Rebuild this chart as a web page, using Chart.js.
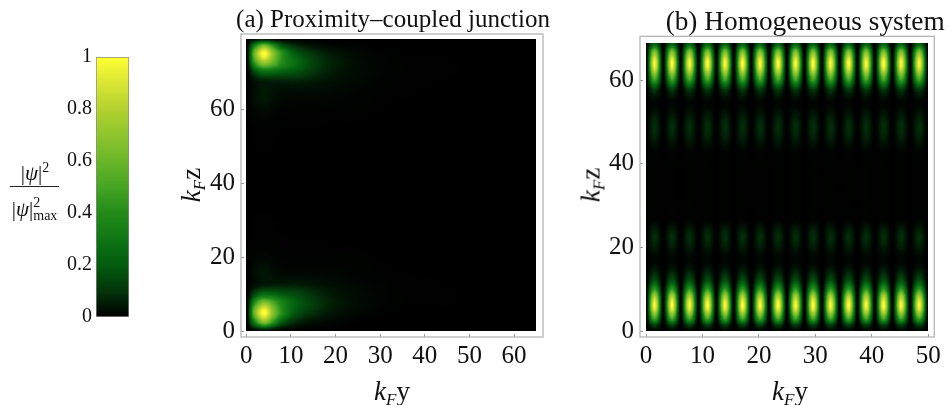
<!DOCTYPE html>
<html>
<head>
<meta charset="utf-8">
<script src="https://cdn.jsdelivr.net/npm/chart.js@4"></script>
<style>
  body { margin: 0; background: #fff; font-family: 'Liberation Serif', serif; color: #111; }
  #page { position: relative; width: 948px; height: 405px; overflow: hidden; }
  canvas { position: absolute; top: 0; }
  .lbl { position: absolute; transform: translate(-50%, -50%); white-space: nowrap; font-size: 27px; }
  .lbl.rot { transform: translate(-50%, -50%) rotate(-90deg); }
  .lbl sub { font-size: 17px; line-height: 0; font-style: italic; vertical-align: -5px; }
  .frac { font-size: 21px; }
  .frac sup { font-size: 14px; line-height: 0; vertical-align: 8px; }
  .stack { display: inline-block; position: relative; width: 25px; height: 1em; font-size: 14px; }
  .stack span { position: absolute; left: 0; line-height: 1; }
  #fracLine { position: absolute; left: 10px; top: 186px; width: 49px; height: 1px; background: #222; }
</style>
</head>
<body>
<div id="page">
  <canvas id="barChart" width="170" height="405" style="left:0"></canvas>
  <canvas id="chartA" width="385" height="405" style="left:170px"></canvas>
  <canvas id="chartB" width="393" height="405" style="left:555px"></canvas>
  <div class="lbl frac" style="left:35px;top:173px"><span>|<i>ψ</i>|</span><sup>2</sup></div>
  <div id="fracLine"></div>
  <div class="lbl frac" style="left:35px;top:209px"><span>|<i>ψ</i>|</span><span class="stack"><span style="top:-6px">2</span><span style="top:7px">max</span></span></div>
  <div class="lbl rot" style="left:191px;top:185px"><i>k</i><sub>F</sub>z</div>
  <div class="lbl" style="left:392px;top:391px"><i>k</i><sub>F</sub>y</div>
  <div class="lbl rot" style="left:591px;top:185px"><i>k</i><sub>F</sub>z</div>
  <div class="lbl" style="left:790px;top:391px"><i>k</i><sub>F</sub>y</div>
</div>
<script>
const cmapStops = [0, 0.1, 0.2, 0.3, 0.4, 0.5, 0.6, 0.7, 0.8, 0.9, 1];
const cmapColors = [[0,0,0],[3,52,10],[2,92,14],[15,118,20],[35,138,25],[70,165,35],[105,182,40],[143,197,45],[178,210,48],[218,230,52],[255,255,50]];
const barTicks = [0, 0.2, 0.4, 0.6, 0.8, 1];

const xTicksA = [0, 10, 20, 30, 40, 50, 60];
const yTicksA = [0, 20, 40, 60];
const xTicksB = [0, 10, 20, 30, 40, 50];
const yTicksB = [0, 20, 40, 60];

// panel (a), rows bottom to top
const xNodesA = [0, 2, 4, 6, 8, 11, 15, 20, 26, 35, 65];
const zNodesA = [0, 2.5, 5, 7.5, 10, 13, 16, 20, 26, 40, 54, 59, 63, 67, 70, 72.5, 75, 77, 79];
const psiA = [
  [0, 0.02, 0.04, 0.02, 0.01, 0.004, 0, 0, 0, 0, 0],
  [0, 0.38, 0.7, 0.45, 0.2, 0.08, 0.03, 0.012, 0, 0, 0],
  [0, 0.66, 1, 0.68, 0.4, 0.18, 0.09, 0.035, 0.012, 0, 0],
  [0, 0.45, 0.7, 0.54, 0.36, 0.22, 0.12, 0.05, 0.018, 0.003, 0],
  [0, 0.15, 0.25, 0.23, 0.19, 0.15, 0.09, 0.04, 0.017, 0.003, 0],
  [0, 0.02, 0.04, 0.04, 0.04, 0.045, 0.035, 0.022, 0.01, 0.002, 0],
  [0, 0.025, 0.04, 0.025, 0.014, 0.012, 0.013, 0.01, 0.005, 0.001, 0],
  [0, 0.01, 0.012, 0.008, 0.005, 0.004, 0.004, 0.004, 0.002, 0, 0],
  [0, 0.002, 0.003, 0.002, 0.001, 0.001, 0.001, 0, 0, 0, 0],
  [0, 0, 0, 0, 0, 0, 0, 0, 0, 0, 0],
  [0, 0.002, 0.003, 0.002, 0.001, 0.001, 0.001, 0, 0, 0, 0],
  [0, 0.012, 0.015, 0.01, 0.006, 0.004, 0.004, 0.004, 0.002, 0, 0],
  [0, 0.028, 0.045, 0.028, 0.014, 0.012, 0.013, 0.01, 0.005, 0.001, 0],
  [0, 0.025, 0.045, 0.045, 0.045, 0.05, 0.04, 0.024, 0.012, 0.002, 0],
  [0, 0.15, 0.25, 0.24, 0.2, 0.17, 0.1, 0.045, 0.018, 0.003, 0],
  [0, 0.47, 0.72, 0.58, 0.4, 0.26, 0.13, 0.055, 0.018, 0.003, 0],
  [0, 0.66, 1, 0.7, 0.42, 0.2, 0.1, 0.04, 0.014, 0.002, 0],
  [0, 0.4, 0.68, 0.44, 0.2, 0.09, 0.035, 0.012, 0.004, 0, 0],
  [0, 0.03, 0.06, 0.03, 0.015, 0.006, 0.002, 0, 0, 0, 0]
];

// panel (b): brightness of each of the 16 lobes at each height, dark gaps between lobes
const lobeCentersB = [1.5, 4.6, 7.7, 10.9, 14, 17.1, 20.2, 23.4, 26.5, 29.6, 32.7, 35.9, 39, 42.1, 45.2, 48.4];
const lobeGapsB = [0, 3.05, 6.15, 9.3, 12.45, 15.55, 18.65, 21.8, 24.95, 28.05, 31.15, 34.3, 37.45, 40.55, 43.65, 46.8, 50];
const zNodesB = [0, 1.2, 3, 6.2, 8.2, 10, 12.4, 17, 22.5, 27, 35, 42, 48.8, 54.5, 57.5, 60.5, 64, 66.5, 69];
const lobesB = [
  [0.02, 0.02, 0.02, 0.02, 0.02, 0.02, 0.02, 0.02, 0.02, 0.02, 0.02, 0.02, 0.02, 0.02, 0.02, 0.02],
  [0.1, 0.1, 0.1, 0.1, 0.1, 0.1, 0.1, 0.1, 0.1, 0.1, 0.1, 0.1, 0.1, 0.1, 0.1, 0.1],
  [0.5, 0.52, 0.5, 0.52, 0.5, 0.52, 0.5, 0.52, 0.5, 0.52, 0.5, 0.52, 0.5, 0.52, 0.5, 0.5],
  [0.98, 1, 0.98, 1, 0.98, 1, 0.98, 1, 0.98, 1, 0.98, 1, 0.98, 1, 0.98, 0.98],
  [0.8, 0.82, 0.8, 0.82, 0.8, 0.82, 0.8, 0.82, 0.8, 0.82, 0.8, 0.82, 0.8, 0.82, 0.8, 0.8],
  [0.45, 0.45, 0.45, 0.45, 0.45, 0.45, 0.45, 0.45, 0.45, 0.45, 0.45, 0.45, 0.45, 0.45, 0.45, 0.45],
  [0.15, 0.15, 0.15, 0.15, 0.15, 0.15, 0.15, 0.15, 0.15, 0.15, 0.15, 0.15, 0.15, 0.15, 0.15, 0.15],
  [0.012, 0.012, 0.012, 0.012, 0.012, 0.012, 0.012, 0.012, 0.012, 0.012, 0.012, 0.012, 0.012, 0.012, 0.012, 0.012],
  [0.085, 0.085, 0.085, 0.085, 0.085, 0.085, 0.085, 0.085, 0.085, 0.085, 0.085, 0.085, 0.085, 0.085, 0.085, 0.085],
  [0.006, 0.006, 0.006, 0.006, 0.006, 0.006, 0.006, 0.006, 0.006, 0.006, 0.006, 0.006, 0.006, 0.006, 0.006, 0.006],
  [0.004, 0.004, 0.004, 0.004, 0.004, 0.004, 0.004, 0.004, 0.004, 0.004, 0.004, 0.004, 0.004, 0.004, 0.004, 0.004],
  [0.006, 0.006, 0.006, 0.006, 0.006, 0.006, 0.006, 0.006, 0.006, 0.006, 0.006, 0.006, 0.006, 0.006, 0.006, 0.006],
  [0.085, 0.085, 0.085, 0.085, 0.085, 0.085, 0.085, 0.085, 0.085, 0.085, 0.085, 0.085, 0.085, 0.085, 0.085, 0.085],
  [0.012, 0.012, 0.012, 0.012, 0.012, 0.012, 0.012, 0.012, 0.012, 0.012, 0.012, 0.012, 0.012, 0.012, 0.012, 0.012],
  [0.1, 0.1, 0.1, 0.1, 0.1, 0.1, 0.1, 0.1, 0.1, 0.1, 0.1, 0.1, 0.1, 0.1, 0.1, 0.1],
  [0.55, 0.55, 0.55, 0.55, 0.55, 0.55, 0.55, 0.55, 0.55, 0.55, 0.55, 0.55, 0.55, 0.55, 0.55, 0.55],
  [0.98, 1, 0.98, 1, 0.98, 1, 0.98, 1, 0.98, 1, 0.98, 1, 0.98, 1, 0.98, 0.98],
  [0.72, 0.72, 0.72, 0.72, 0.72, 0.72, 0.72, 0.72, 0.72, 0.72, 0.72, 0.72, 0.72, 0.72, 0.72, 0.72],
  [0.2, 0.2, 0.2, 0.2, 0.2, 0.2, 0.2, 0.2, 0.2, 0.2, 0.2, 0.2, 0.2, 0.2, 0.2, 0.2]
];

// the gaps between lobes are read as black
const xNodesB = lobeGapsB.flatMap((g, i) => i < lobeCentersB.length ? [g, lobeCentersB[i]] : [g]);
const psiB = lobesB.map(row => row.flatMap(v => [0, v]).concat(0));

function cmap(v) {
  v = Math.min(1, Math.max(0, v));
  let i = 0;
  while (i < cmapStops.length - 2 && v > cmapStops[i + 1]) i++;
  const t = (v - cmapStops[i]) / (cmapStops[i + 1] - cmapStops[i]);
  return cmapColors[i].map((c, k) => c + (cmapColors[i + 1][k] - c) * t);
}

// smooth curve through the grid nodes, only used to paint between them
function monotone(xs, ys) {
  const n = xs.length, d = [], m = new Array(n).fill(0);
  for (let i = 0; i < n - 1; i++) d.push((ys[i + 1] - ys[i]) / (xs[i + 1] - xs[i]));
  for (let i = 1; i < n - 1; i++) {
    if (d[i - 1] * d[i] > 0) {
      const a = xs[i] - xs[i - 1], b = xs[i + 1] - xs[i];
      m[i] = 3 * (a + b) / ((2 * b + a) / d[i - 1] + (b + 2 * a) / d[i]);
    }
  }
  return x => {
    let i = 0;
    while (i < n - 2 && x > xs[i + 1]) i++;
    const h = xs[i + 1] - xs[i], t = (x - xs[i]) / h, t2 = t * t, t3 = t2 * t;
    return (2*t3 - 3*t2 + 1) * ys[i] + (t3 - 2*t2 + t) * h * m[i] + (-2*t3 + 3*t2) * ys[i + 1] + (t3 - t2) * h * m[i + 1];
  };
}

const heatPlugin = {
  id: 'heat',
  afterLayout(chart, args, opts) {
    // title is wider than the frame in the reference, and title text gets squeezed to its box
    chart.titleBlock.left += opts.titleShift - 30;
    chart.titleBlock.right += opts.titleShift + 30;
  },
  beforeDatasetsDraw(chart, args, opts) {
    const { x: sx, y: sy } = chart.scales;
    const { xs, zs, rows } = opts;
    const left = Math.round(sx.getPixelForValue(xs[0]));
    const right = Math.round(sx.getPixelForValue(xs[xs.length - 1]));
    const top = Math.round(sy.getPixelForValue(zs[zs.length - 1]));
    const bottom = Math.round(sy.getPixelForValue(zs[0]));
    const w = right - left, h = bottom - top;
    const rowFns = rows.map(r => monotone(xs, r));
    const img = chart.ctx.createImageData(w, h);
    for (let px = 0; px < w; px++) {
      const xv = sx.getValueForPixel(left + px + 0.5);
      const col = monotone(zs, rowFns.map(f => f(xv)));
      for (let py = 0; py < h; py++) {
        const c = cmap(col(sy.getValueForPixel(top + py + 0.5)));
        const o = (py * w + px) * 4;
        img.data[o] = c[0]; img.data[o + 1] = c[1]; img.data[o + 2] = c[2]; img.data[o + 3] = 255;
      }
    }
    chart.ctx.putImageData(img, left, top);
  },
  afterDraw(chart) {
    const a = chart.chartArea, ctx = chart.ctx;
    ctx.save();
    ctx.strokeStyle = '#b0b0b0';
    ctx.lineWidth = 1.2;
    ctx.strokeRect(a.left, a.top, a.right - a.left, a.bottom - a.top);
    ctx.restore();
  }
};

function heatChart(id, cfg) {
  const points = [];
  cfg.zs.forEach((z, j) => cfg.xs.forEach((x, i) => points.push({ x: x, y: z, v: cfg.rows[j][i] })));
  const tickFont = { family: 'Liberation Serif', size: 25 };
  return new Chart(document.getElementById(id), {
    type: 'scatter',
    data: { datasets: [{ data: points, pointRadius: 0, pointHoverRadius: 0 }] },
    plugins: [heatPlugin],
    options: {
      responsive: false,
      animation: false,
      layout: { padding: { left: 0, right: cfg.padRight, top: 0, bottom: 0 } },
      plugins: {
        legend: { display: false },
        tooltip: { enabled: false },
        title: {
          display: true, text: cfg.title, color: '#111', fullSize: false,
          font: { family: 'Liberation Serif', size: cfg.titleSize, weight: 'normal', lineHeight: 1 },
          padding: cfg.titlePad
        },
        heat: { xs: cfg.xs, zs: cfg.zs, rows: cfg.rows, titleShift: cfg.titleShift }
      },
      scales: {
        x: {
          type: 'linear', min: cfg.xMin, max: cfg.xMax,
          afterBuildTicks: s => { s.ticks = cfg.xTicks.map(v => ({ value: v })); },
          afterFit: s => { s.height = 68; },
          border: { display: false },
          grid: { drawOnChartArea: false, tickLength: -3, tickColor: '#999' },
          ticks: { font: tickFont, color: '#111', padding: 7, maxRotation: 0, autoSkip: false }
        },
        y: {
          type: 'linear', min: cfg.yMin, max: cfg.yMax,
          afterBuildTicks: s => { s.ticks = cfg.yTicks.map(v => ({ value: v })); },
          afterFit: s => { s.width = cfg.yWidth; },
          border: { display: false },
          grid: { drawOnChartArea: false, tickLength: -3, tickColor: '#999' },
          ticks: { font: tickFont, color: '#111', padding: 9, autoSkip: false }
        }
      }
    }
  });
}

// colour bar is a single floating bar filled through the y scale
new Chart(document.getElementById('barChart'), {
  type: 'bar',
  data: {
    labels: [''],
    datasets: [{
      data: [[0, 1]],
      barPercentage: 1,
      categoryPercentage: 1,
      borderWidth: 1,
      borderColor: '#8a8a8a',
      borderSkipped: false,
      backgroundColor(ctx) {
        const { chartArea, scales } = ctx.chart;
        if (!chartArea) return '#000';
        const g = ctx.chart.ctx.createLinearGradient(0, scales.y.getPixelForValue(0), 0, scales.y.getPixelForValue(1));
        cmapStops.forEach((s, i) => g.addColorStop(s, 'rgb(' + cmapColors[i].join(',') + ')'));
        return g;
      }
    }]
  },
  options: {
    responsive: false,
    animation: false,
    layout: { padding: { left: 0, right: 41, top: 57, bottom: 88 } },
    plugins: { legend: { display: false }, tooltip: { enabled: false } },
    scales: {
      x: { display: false },
      y: {
        min: 0, max: 1,
        afterBuildTicks: s => { s.ticks = barTicks.map(v => ({ value: v })); },
        afterFit: s => { s.width = 96; },
        border: { display: false },
        grid: { display: false, drawTicks: false },
        ticks: { font: { family: 'Liberation Serif', size: 20 }, color: '#111', padding: 4, autoSkip: false, callback: v => String(v) }
      }
    }
  }
});

heatChart('chartA', {
  title: '(a) Proximity–coupled junction',
  titleSize: 25,
  titlePad: { top: 8, bottom: 1 },
  titleShift: 1,
  xs: xNodesA, zs: zNodesA, rows: psiA,
  xTicks: xTicksA, yTicks: yTicksA,
  xMin: -1.19, xMax: 66.5, yMin: -1.62, yMax: 80.3,
  yWidth: 71, padRight: 12
});

heatChart('chartB', {
  title: '(b) Homogeneous system',
  titleSize: 27.3,
  titlePad: { top: 9, bottom: 0 },
  titleShift: 18,
  xs: xNodesB, zs: zNodesB, rows: psiB,
  xTicks: xTicksB, yTicks: yTicksB,
  xMin: -1.08, xMax: 51.07, yMin: -1.43, yMax: 70.5,
  yWidth: 85, padRight: 7
});
</script>
</body>
</html>
